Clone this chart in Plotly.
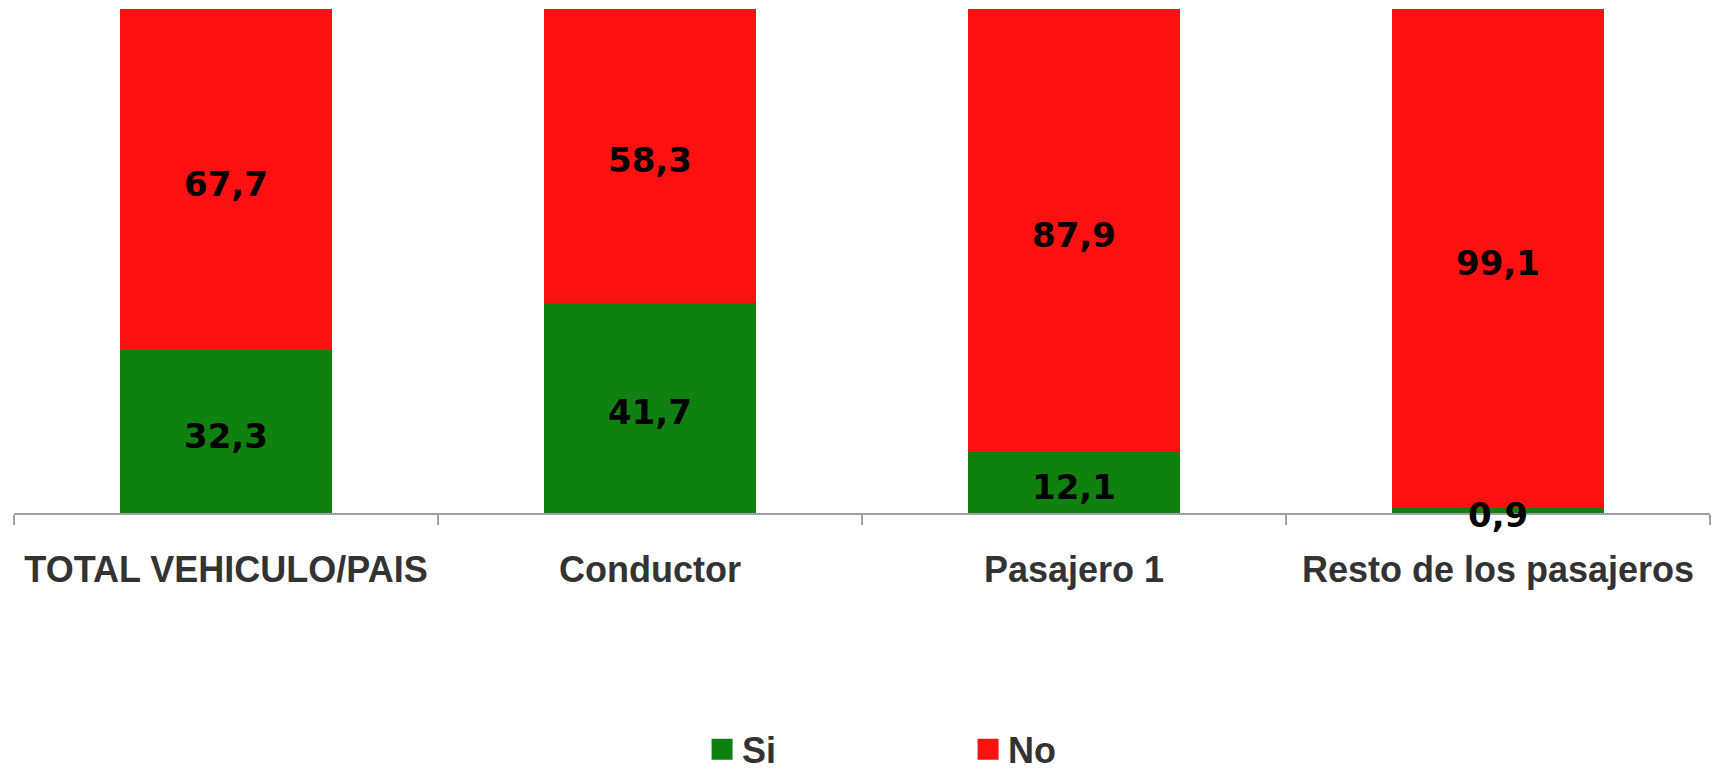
import plotly.graph_objects as go

categories = ["TOTAL VEHICULO/PAIS", "Conductor", "Pasajero 1", "Resto de los pasajeros"]
si_values = [32.3, 41.7, 12.1, 0.9]
no_values = [67.7, 58.3, 87.9, 99.1]
series_names = ["Si", "No"]

GREEN = "#108010"
RED = "#FF1111"

def fmt(v):
    return f"{v:.1f}".replace(".", ",")

fig = go.Figure()

fig.add_trace(go.Bar(x=categories, y=si_values, name=series_names[0], marker=dict(color=GREEN, line=dict(width=0)),
                     showlegend=False, hoverinfo="skip"))
fig.add_trace(go.Bar(x=categories, y=no_values, name=series_names[1], marker=dict(color=RED, line=dict(width=0)),
                     showlegend=False, hoverinfo="skip"))

# data labels at segment centres
si_mid = [s / 2 for s in si_values]
no_mid = [s + n / 2 for s, n in zip(si_values, no_values)]
label_font = dict(family="DejaVu Sans", size=34, color="#000000", weight="bold")
for cat, s, ym in zip(categories, si_values, si_mid):
    fig.add_annotation(x=cat, y=ym, text=fmt(s), showarrow=False, yshift=-4, font=label_font)
for cat, n, ym in zip(categories, no_values, no_mid):
    fig.add_annotation(x=cat, y=ym, text=fmt(n), showarrow=False, yshift=-4, font=label_font)

# legend proxies
for name, col in zip(series_names, [GREEN, RED]):
    fig.add_trace(go.Scatter(x=[None], y=[None], mode="markers", name=name,
                             marker=dict(symbol="square", size=16, color=col, line=dict(color=col, width=5))))

fig.update_layout(
    width=1711, height=763,
    margin=dict(l=6, r=9, t=1, b=258, autoexpand=False),
    barmode="stack", bargap=0.5,
    plot_bgcolor="white", paper_bgcolor="white",
    font=dict(family="Liberation Sans", color="#333333"),
    legend=dict(orientation="h", x=0.4057, xanchor="left", y=-0.469, yanchor="middle",
                traceorder="normal",
                font=dict(family="Liberation Sans", size=36, color="#333333", weight="bold"),
                entrywidth=221, entrywidthmode="pixels", itemsizing="trace",
                bgcolor="rgba(0,0,0,0)"),
    xaxis=dict(showline=True, linecolor="#A0A0A0", linewidth=2, ticks="outside", ticklen=10,
               tickwidth=2, tickcolor="#A0A0A0", tickson="boundaries", tickangle=0,
               ticklabelstandoff=24, automargin=False,
               tickfont=dict(family="Liberation Sans", size=36, color="#333333", weight="bold"),
               showgrid=False, zeroline=False, fixedrange=True),
    yaxis=dict(range=[0, 100], visible=False, showgrid=False, zeroline=False, fixedrange=True,
               automargin=False),
)

fig.write_html("out.html")
